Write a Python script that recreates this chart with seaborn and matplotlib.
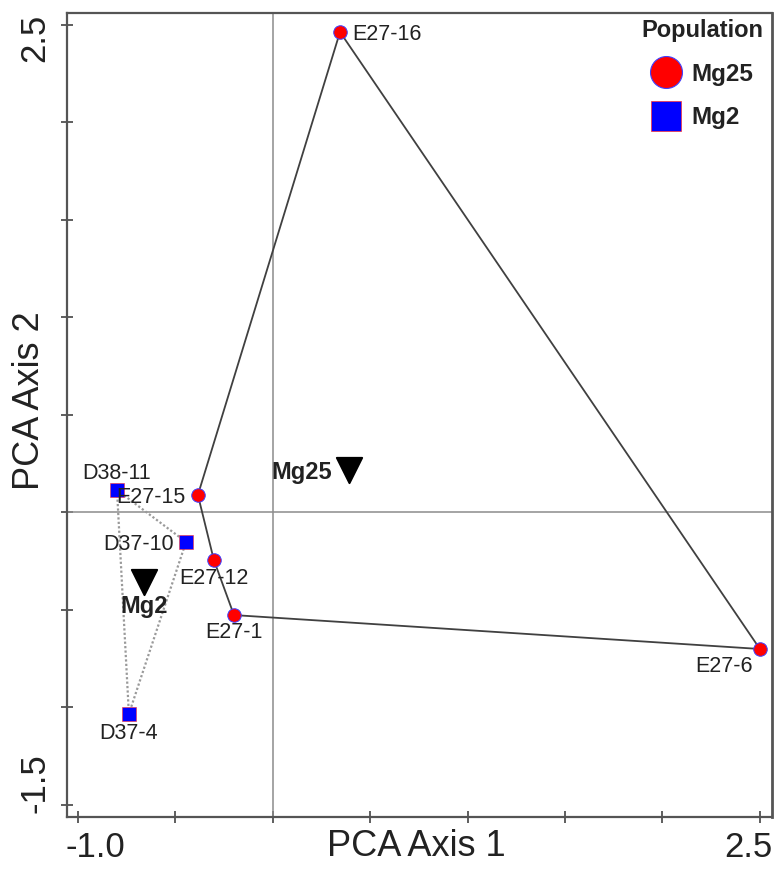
import numpy as np
import pandas as pd
import matplotlib
matplotlib.use('Agg')
import matplotlib.pyplot as plt
from matplotlib.lines import Line2D
from matplotlib.transforms import ScaledTranslation
import seaborn as sns

# PCA scores
samples = ['E27-16', 'E27-15', 'E27-12', 'E27-1', 'E27-6', 'D38-11', 'D37-10', 'D37-4']
population = ['Mg25', 'Mg25', 'Mg25', 'Mg25', 'Mg25', 'Mg2', 'Mg2', 'Mg2']
axis1 = [0.346, -0.383, -0.301, -0.198, 2.500, -0.798, -0.444, -0.737]
axis2 = [2.464, 0.090, -0.244, -0.526, -0.700, 0.115, -0.151, -1.033]

# convex hull order for each group
hull_mg25 = ['E27-16', 'E27-6', 'E27-1', 'E27-12', 'E27-15']
hull_mg2 = ['D38-11', 'D37-10', 'D37-4']

df = pd.DataFrame({'sample': samples, 'population': population, 'axis1': axis1, 'axis2': axis2})
centroids = df.groupby('population', sort=False)[['axis1', 'axis2']].mean().reset_index()

sns.set_style('white')
plt.rcParams['font.family'] = ['Liberation Sans', 'DejaVu Sans']
txt = '#222222'

fig = plt.figure(figsize=(7.76, 8.73), dpi=100)
ax = fig.add_axes([66.7 / 776, 1 - 816.7 / 873, (772 - 66.7) / 776, (816.7 - 12.7) / 873])

# origin lines
ax.axhline(0, color='#8c8c8c', lw=1.1, zorder=1)
ax.axvline(0, color='#8c8c8c', lw=1.1, zorder=1)

# hulls
pts = df.set_index('sample')
h = pts.loc[hull_mg25 + hull_mg25[:1]]
ax.plot(h['axis1'], h['axis2'], color='#404040', lw=1.3, zorder=2)
h = pts.loc[hull_mg2 + hull_mg2[:1]]
ax.plot(h['axis1'], h['axis2'], color='#9a9a9a', lw=1.6, ls=(0, (1, 1)), zorder=2)

# points
mg25 = df[df['population'] == 'Mg25']
mg2 = df[df['population'] == 'Mg2']
sns.scatterplot(data=mg25, x='axis1', y='axis2', marker='o', color='red', edgecolor='#4040ff',
                linewidth=0.7, s=95, ax=ax, legend=False, zorder=4)
sns.scatterplot(data=mg2, x='axis1', y='axis2', marker='s', color='blue', edgecolor='#ff3030',
                linewidth=0.4, s=90, ax=ax, legend=False, zorder=4)

# centroids
sns.scatterplot(data=centroids, x='axis1', y='axis2', marker='v', color='black', edgecolor='black',
                s=330, ax=ax, legend=False, zorder=4)

# sample labels: (dx, dy in points, ha, va)
label_pos = {
    'E27-16': (9, 0, 'left', 'center_baseline'),
    'E27-15': (-9, 0, 'right', 'center_baseline'),
    'E27-12': (0, -6, 'center', 'top'),
    'E27-1': (0, -5, 'center', 'top'),
    'E27-6': (-26, -5, 'center', 'top'),
    'D38-11': (0, 8, 'center', 'baseline'),
    'D37-10': (-8.5, 0, 'right', 'center_baseline'),
    'D37-4': (0, -6.5, 'center', 'top'),
}
for _, r in df.iterrows():
    dx, dy, ha, va = label_pos[r['sample']]
    ax.annotate(r['sample'], (r['axis1'], r['axis2']), xytext=(dx, dy), textcoords='offset points',
                ha=ha, va=va, fontsize=15.5, color=txt, zorder=5)

cent_pos = {'Mg25': (-12, 0, 'right', 'center_baseline'), 'Mg2': (0, -9.5, 'center', 'top')}
for _, r in centroids.iterrows():
    dx, dy, ha, va = cent_pos[r['population']]
    ax.annotate(r['population'], (r['axis1'], r['axis2']), xytext=(dx, dy), textcoords='offset points',
                ha=ha, va=va, fontsize=17, fontweight='bold', color=txt, zorder=5)

ax.set_xlim(-1.056, 2.562)
ax.set_ylim(-1.560, 2.563)

xt = np.arange(-1.0, 2.51, 0.5)
yt = np.arange(-1.5, 2.51, 0.5)
ax.set_xticks(xt, ['-1.0'] + [''] * (len(xt) - 2) + ['2.5'])
ax.set_yticks(yt, ['-1.5'] + [''] * (len(yt) - 2) + ['2.5'])
ax.tick_params(axis='both', direction='inout', length=8, width=1.1, color='#333333',
               labelsize=25, labelcolor=txt, pad=6, left=True, bottom=True)
ax.tick_params(axis='y', labelrotation=90, pad=7)

for sp in ax.spines.values():
    sp.set_color('#555555')
    sp.set_linewidth(1.6)
ax.spines['right'].set_linewidth(2.0)

ax.set_xlabel('PCA Axis 1', fontsize=26, color=txt)
ax.set_ylabel('PCA Axis 2', fontsize=26, color=txt)
ax.xaxis.set_label_coords(0.495, -0.0153)
ax.yaxis.set_label_coords(-0.028, 0.518)


def shift(lab, dx, dy):
    lab.set_transform(lab.get_transform() + ScaledTranslation(dx / 100, dy / 100, fig.dpi_scale_trans))


xl = ax.get_xticklabels()
xl[0].set_ha('left')
shift(xl[0], -12, 0)
xl[-1].set_ha('right')
shift(xl[-1], 13, 0)
yl = ax.get_yticklabels()
yl[0].set_va('bottom')
shift(yl[0], 0, -8)
yl[-1].set_va('top')
shift(yl[-1], 0, 11)

# legend
handles = [
    Line2D([], [], marker='o', ls='', markersize=23, markerfacecolor='red', markeredgecolor='#4040ff',
           markeredgewidth=0.8, label='Mg25'),
    Line2D([], [], marker='s', ls='', markersize=22, markerfacecolor='blue', markeredgecolor='#ff3030',
           markeredgewidth=0.5, label='Mg2'),
]
leg = fig.legend(handles=handles, title='Population', loc='upper right',
                 bbox_to_anchor=(763 / 776, 1 - 19 / 873), frameon=False, borderpad=0,
                 borderaxespad=0, labelspacing=0.85, handletextpad=0.45, handlelength=1.2,
                 prop={'size': 17.5, 'weight': 'bold'},
                 title_fontproperties={'size': 17, 'weight': 'bold'})
for t in leg.get_texts():
    t.set_color(txt)
leg.get_title().set_color(txt)

fig.savefig('out.png', dpi=100)
